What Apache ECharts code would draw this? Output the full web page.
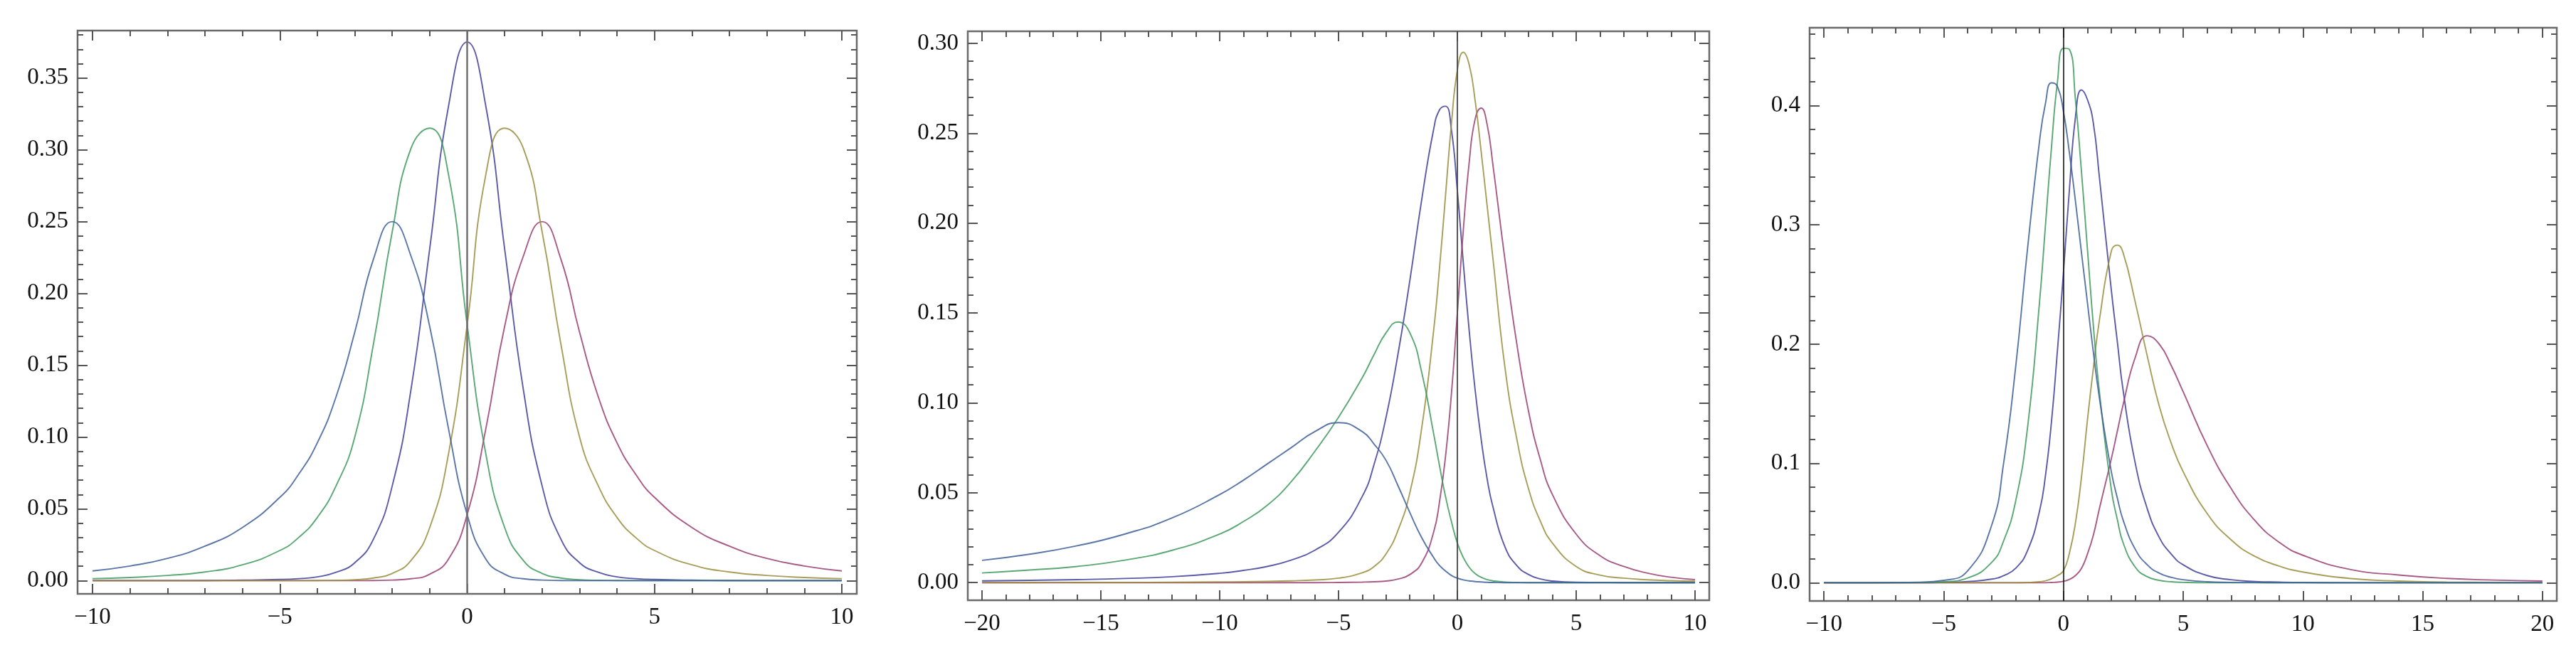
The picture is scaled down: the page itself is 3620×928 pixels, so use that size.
<!DOCTYPE html>
<html><head><meta charset="utf-8">
<script src="https://cdn.jsdelivr.net/npm/echarts@6/dist/echarts.min.js"></script>
<style>html,body{margin:0;padding:0;background:#fff}#c{width:3620px;height:928px}</style>
</head><body><div id="c"></div>
<script>
// ---------- Panel 1 ----------
const P1_X = [-10,-9,-8,-7,-6,-5,-4.5,-4,-3.5,-3,-2.5,-2,-1.5,-1,-0.5,0,0.5,1,1.5,2,2.5,3,3.5,4,4.5,5,6,7,8,9,10];
const P1_CENTER  = [0,0,0,0.0001,0.0003,0.0008,0.0014,0.0026,0.0058,0.0125,0.029,0.066,0.133,0.231,0.330,0.375,0.330,0.231,0.133,0.066,0.029,0.0125,0.0058,0.0026,0.0014,0.0008,0.0003,0.0001,0,0,0];
const P1_MAGENTA = [0,0,0,0,0,0,0,0,0,0,0.0001,0.0004,0.0013,0.0045,0.015,0.046,0.106,0.177,0.226,0.25,0.224,0.173,0.128,0.096,0.074,0.058,0.037,0.024,0.0155,0.0102,0.0068];
const P1_YELLOW  = [0,0,0,0,0,0,0,0.0001,0.0002,0.0006,0.0018,0.005,0.014,0.037,0.088,0.178,0.283,0.315,0.301,0.243,0.165,0.1,0.066,0.044,0.03,0.021,0.011,0.006,0.0036,0.0022,0.0014];
const P1_GREEN   = [0.0014,0.0022,0.0036,0.006,0.011,0.021,0.03,0.044,0.066,0.1,0.165,0.243,0.301,0.315,0.283,0.178,0.088,0.037,0.014,0.005,0.0018,0.0006,0.0002,0.0001,0,0,0,0,0,0,0];
const P1_BLUE    = [0.0068,0.0102,0.0155,0.024,0.037,0.058,0.074,0.096,0.128,0.173,0.224,0.25,0.226,0.177,0.106,0.046,0.015,0.0045,0.0013,0.0004,0.0001,0,0,0,0,0,0,0,0,0,0];
const P1_XTICKS = [-10,-5,0,5,10];
const P1_YTICKS = [0,0.05,0.10,0.15,0.20,0.25,0.30,0.35];

// ---------- Panel 2 ----------
const P2_X = [-20,-18,-16,-14,-12,-10,-9,-8,-7,-6,-5,-4,-3.5,-3,-2.5,-2,-1.5,-1,-0.75,-0.5,-0.25,0,0.25,0.5,0.75,1,1.25,1.5,2,2.5,3,3.5,4,5,6,7,8,9,10];
const P2_PURPLE  = [0.001,0.0013,0.0017,0.0023,0.0033,0.0052,0.0068,0.009,0.0125,0.018,0.028,0.048,0.066,0.092,0.127,0.168,0.213,0.252,0.263,0.265,0.252,0.218,0.178,0.14,0.107,0.08,0.058,0.042,0.02,0.0095,0.0045,0.002,0.0009,0.0002,0.0001,0,0,0,0];
const P2_MAGENTA = [0,0,0,0,0,0,0,0,0,0,0.0001,0.0003,0.0005,0.0009,0.002,0.0045,0.011,0.028,0.045,0.07,0.105,0.15,0.196,0.234,0.258,0.264,0.255,0.232,0.18,0.133,0.095,0.068,0.049,0.027,0.015,0.009,0.0053,0.003,0.0017];
const P2_YELLOW  = [0,0,0.0001,0.0001,0.0002,0.0004,0.0005,0.0007,0.001,0.0015,0.0025,0.0055,0.009,0.016,0.029,0.05,0.086,0.14,0.175,0.215,0.255,0.285,0.295,0.288,0.268,0.24,0.21,0.18,0.12,0.08,0.052,0.034,0.022,0.009,0.0042,0.0025,0.0016,0.0011,0.0008];
const P2_GREEN   = [0.0054,0.007,0.009,0.0125,0.018,0.027,0.034,0.043,0.056,0.073,0.092,0.114,0.127,0.139,0.145,0.139,0.117,0.083,0.065,0.048,0.034,0.022,0.014,0.0085,0.005,0.003,0.0017,0.001,0.0003,0.0001,0,0,0,0,0,0,0,0,0];
const P2_BLUE    = [0.0124,0.0158,0.0205,0.027,0.036,0.049,0.057,0.066,0.075,0.084,0.089,0.084,0.077,0.068,0.054,0.039,0.025,0.014,0.0095,0.0065,0.004,0.0025,0.0015,0.001,0.0006,0.0004,0.0002,0.0001,0,0,0,0,0,0,0,0,0,0,0];
const P2_XTICKS = [-20,-15,-10,-5,0,5,10];
const P2_YTICKS = [0,0.05,0.10,0.15,0.20,0.25,0.30];

// ---------- Panel 3 ----------
const P3_X = [-10,-8,-6,-5,-4,-3,-2.5,-2,-1.5,-1,-0.75,-0.5,-0.25,0,0.25,0.5,0.75,1,1.25,1.5,2,2.25,2.5,3,3.5,4,4.5,5,6,7,8,9,10,12,14,16,18,20];
const P3_PURPLE  = [0,0,0,0.0003,0.001,0.003,0.006,0.012,0.027,0.06,0.09,0.135,0.195,0.26,0.33,0.39,0.413,0.405,0.385,0.34,0.245,0.202,0.16,0.1,0.062,0.038,0.024,0.015,0.006,0.0025,0.001,0.0005,0.0002,0,0,0,0,0];
const P3_MAGENTA = [0,0,0,0,0,0,0,0,0,0,0,0.0002,0.0005,0.0012,0.0028,0.006,0.012,0.024,0.04,0.062,0.104,0.127,0.15,0.189,0.207,0.2,0.182,0.16,0.115,0.079,0.052,0.034,0.023,0.011,0.0065,0.0036,0.0022,0.0014];
const P3_YELLOW  = [0,0,0,0,0,0,0,0,0.0002,0.0008,0.0016,0.0033,0.006,0.01,0.025,0.05,0.088,0.136,0.18,0.22,0.278,0.283,0.276,0.235,0.19,0.148,0.117,0.093,0.058,0.036,0.022,0.014,0.009,0.0035,0.0014,0.0006,0.0003,0.0001];
const P3_GREEN   = [0,0,0.0002,0.0008,0.004,0.017,0.035,0.068,0.13,0.235,0.3,0.365,0.42,0.448,0.447,0.405,0.345,0.28,0.215,0.16,0.078,0.053,0.033,0.013,0.005,0.002,0.0008,0.0003,0,0,0,0,0,0,0,0,0,0];
const P3_BLUE    = [0,0,0.0004,0.002,0.01,0.048,0.1,0.18,0.28,0.37,0.402,0.419,0.416,0.395,0.36,0.32,0.277,0.235,0.193,0.155,0.093,0.071,0.052,0.028,0.015,0.008,0.0045,0.0025,0.0008,0.0003,0.0001,0,0,0,0,0,0,0];
const P3_XTICKS = [-10,-5,0,5,10,15,20];
const P3_YTICKS = [0,0.1,0.2,0.3,0.4];

// ---------- styling ----------
const COLORS = ['#3e3d99','#993d71','#998d3d','#3d995c','#3d5e99'];
const FONT = '"Liberation Serif","Times New Roman","DejaVu Serif",serif';
const TICK = '#555';
const FRAME = '#6a6a6a';

function minors(from, to, step, majorStep) {
  const out = [];
  const n = Math.round((to - from) / step);
  for (let i = 0; i <= n; i++) {
    const v = Math.round((from + i * step) * 1e6) / 1e6;
    const r = v / majorStep;
    if (Math.abs(r - Math.round(r)) > 1e-6) out.push(v);
  }
  return out;
}
const fmtX = v => (v < 0 ? '\u2212' + Math.abs(v) : String(v));

const panels = [
  { grid:{left:109, top:43, width:1095, height:792}, xMin:-10.4, xMax:10.4, yMin:-0.0092, yMax:0.383,
    xMajor:P1_XTICKS, xMinor:minors(-10,10,1,5), yMajor:P1_YTICKS, yMinor:minors(0,0.38,0.01,0.05), yDigits:2,
    x:P1_X, curves:[P1_CENTER,P1_MAGENTA,P1_YELLOW,P1_GREEN,P1_BLUE], zeroColor:'#707070', zeroWidth:2.5 },
  { grid:{left:1360, top:44, width:1042, height:800}, xMin:-20.6, xMax:10.6, yMin:-0.0098, yMax:0.3067,
    xMajor:P2_XTICKS, xMinor:minors(-20,10,1,5), yMajor:P2_YTICKS, yMinor:minors(0,0.30,0.01,0.05), yDigits:2,
    x:P2_X, curves:[P2_PURPLE,P2_MAGENTA,P2_YELLOW,P2_GREEN,P2_BLUE], zeroColor:'#444', zeroWidth:1.8 },
  { grid:{left:2543, top:39, width:1050, height:806}, xMin:-10.6, xMax:20.6, yMin:-0.0153, yMax:0.4652,
    xMajor:P3_XTICKS, xMinor:minors(-10,20,1,5), yMajor:P3_YTICKS, yMinor:minors(0,0.46,0.02,0.1), yDigits:1,
    x:P3_X, curves:[P3_PURPLE,P3_MAGENTA,P3_YELLOW,P3_GREEN,P3_BLUE], zeroColor:'#111', zeroWidth:1.6 }
];

const grids = [], xAxes = [], yAxes = [], series = [];
panels.forEach((p, gi) => {
  grids.push(Object.assign({show:true, borderColor:FRAME, borderWidth:2.5, containLabel:false}, p.grid));
  const xb = {type:'value', gridIndex:gi, min:p.xMin, max:p.xMax, axisLine:{show:false, onZero:false}, splitLine:{show:false}};
  const yb = {type:'value', gridIndex:gi, min:p.yMin, max:p.yMax, axisLine:{show:false, onZero:false}, splitLine:{show:false}};
  const tick = (vals, len) => ({show:true, inside:true, length:len, customValues:vals, lineStyle:{color:TICK, width:2}});
  xAxes.push(Object.assign({}, xb, {position:'bottom', axisTick:tick(p.xMajor,14),
    axisLabel:{show:true, customValues:p.xMajor, formatter:fmtX, margin:17, fontSize:33, fontFamily:FONT, color:'#111'}}));
  xAxes.push(Object.assign({}, xb, {position:'bottom', axisTick:tick(p.xMinor,8), axisLabel:{show:false}}));
  xAxes.push(Object.assign({}, xb, {position:'top', axisTick:tick(p.xMajor,14), axisLabel:{show:false}}));
  xAxes.push(Object.assign({}, xb, {position:'top', axisTick:tick(p.xMinor,8), axisLabel:{show:false}}));
  yAxes.push(Object.assign({}, yb, {position:'left', axisTick:tick(p.yMajor,14),
    axisLabel:{show:true, customValues:p.yMajor, formatter:v => v.toFixed(p.yDigits), margin:13, fontSize:33, fontFamily:FONT, color:'#111'}}));
  yAxes.push(Object.assign({}, yb, {position:'left', axisTick:tick(p.yMinor,8), axisLabel:{show:false}}));
  yAxes.push(Object.assign({}, yb, {position:'right', axisTick:tick(p.yMajor,14), axisLabel:{show:false}}));
  yAxes.push(Object.assign({}, yb, {position:'right', axisTick:tick(p.yMinor,8), axisLabel:{show:false}}));
  p.curves.forEach((ys, ci) => {
    const s = {
      type:'line', xAxisIndex:4*gi, yAxisIndex:4*gi, silent:true, animation:false,
      showSymbol:false, symbol:'none', smooth:0.5, clip:true,
      lineStyle:{color:COLORS[ci], width:1.9, opacity:0.85},
      data: p.x.map((x, i) => [x, ys[i]])
    };
    if (ci === 0) {
      s.markLine = {silent:true, symbol:['none','none'], label:{show:false}, animation:false,
        lineStyle:{color:p.zeroColor, width:p.zeroWidth, type:'solid'}, data:[{xAxis:0}]};
    }
    series.push(s);
  });
});

const chart = echarts.init(document.getElementById('c'), null, {renderer:'canvas'});
chart.setOption({backgroundColor:'#ffffff', animation:false, grid:grids, xAxis:xAxes, yAxis:yAxes, series:series});
</script></body></html>
